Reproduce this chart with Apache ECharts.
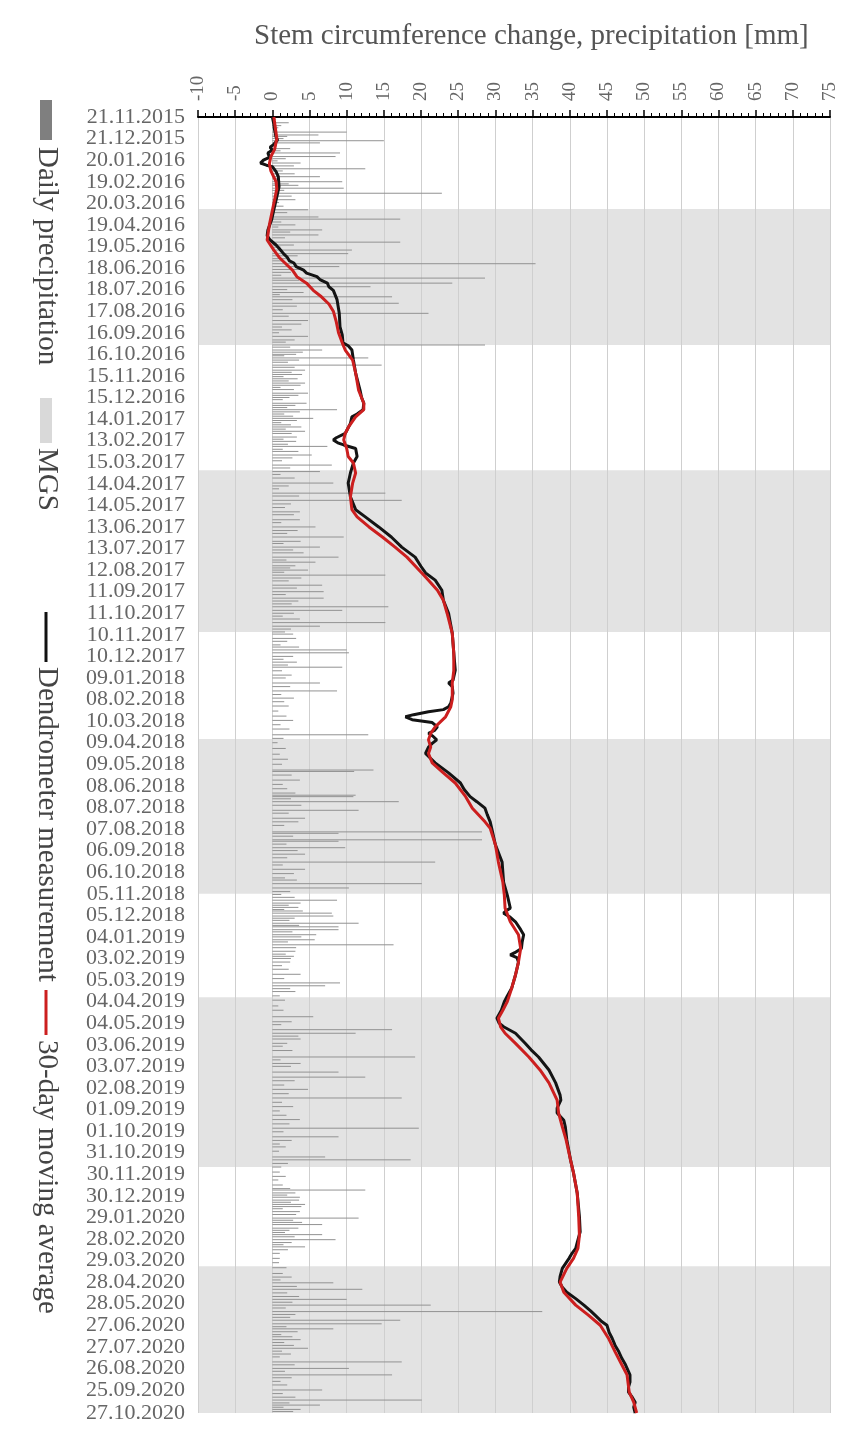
<!DOCTYPE html>
<html><head><meta charset="utf-8">
<script src="https://cdn.jsdelivr.net/npm/echarts@6/dist/echarts.min.js"></script>
<style>html,body{margin:0;padding:0;background:#fff}#c{width:856px;height:1451px}</style>
</head><body><div id="c"></div>
<script>
const titleText = 'Stem circumference change, precipitation [mm]';
const legendNames = ['Daily precipitation', 'MGS', 'Dendrometer measurement', '30-day moving average'];
const dateLabels = ['21.11.2015','21.12.2015','20.01.2016','19.02.2016','20.03.2016','19.04.2016','19.05.2016','18.06.2016','18.07.2016','17.08.2016','16.09.2016','16.10.2016','15.11.2016','15.12.2016','14.01.2017','13.02.2017','15.03.2017','14.04.2017','14.05.2017','13.06.2017','13.07.2017','12.08.2017','11.09.2017','11.10.2017','10.11.2017','10.12.2017','09.01.2018','08.02.2018','10.03.2018','09.04.2018','09.05.2018','08.06.2018','08.07.2018','07.08.2018','06.09.2018','06.10.2018','05.11.2018','05.12.2018','04.01.2019','03.02.2019','05.03.2019','04.04.2019','04.05.2019','03.06.2019','03.07.2019','02.08.2019','01.09.2019','01.10.2019','31.10.2019','30.11.2019','30.12.2019','29.01.2020','28.02.2020','29.03.2020','28.04.2020','28.05.2020','27.06.2020','27.07.2020','26.08.2020','25.09.2020','27.10.2020'];
const labelDays = [0,30,60,90,120,150,180,210,240,270,300,330,360,390,420,450,480,510,540,570,600,630,660,690,720,750,780,810,840,870,900,930,960,990,1020,1050,1080,1110,1140,1170,1200,1230,1260,1290,1320,1350,1380,1410,1440,1470,1500,1530,1560,1590,1620,1650,1680,1710,1740,1770,1802];
const lastDay = 1802;
// main growing season bands [startDay, endDay]
const mgsBands = [[128,317],[491,716],[865,1080],[1224,1460],[1598,1802]];
// dendrometer [day, mm]
const dendrometer = [[0,0.0],[10,0.2],[18,0.3],[28,0.5],[32,0.7],[38,0.2],[42,-0.3],[46,0.0],[50,-0.6],[56,-0.4],[60,-1.2],[64,-1.6],[67,-0.8],[69,0.0],[76,0.5],[83,0.8],[97,0.9],[111,0.6],[129,0.2],[143,-0.1],[157,-0.6],[165,-0.7],[171,-0.3],[178,0.5],[185,1.1],[190,1.5],[195,2.0],[200,2.3],[203,2.9],[208,3.2],[213,4.2],[217,4.6],[222,6.0],[226,6.4],[231,7.4],[236,7.6],[241,8.2],[254,8.7],[273,9.0],[292,9.1],[303,9.4],[314,9.5],[318,10.2],[324,10.7],[338,10.9],[356,11.2],[380,11.8],[390,12.0],[398,12.3],[407,12.2],[413,11.4],[417,10.7],[426,10.5],[440,9.8],[446,8.6],[449,8.2],[453,8.8],[456,9.6],[461,11.2],[472,11.4],[481,10.9],[495,10.5],[509,10.2],[528,10.5],[546,11.2],[556,12.5],[570,14.3],[584,16.0],[598,17.4],[612,19.2],[625,20.0],[634,20.6],[644,21.9],[658,22.8],[672,23.0],[690,23.7],[718,24.2],[745,24.4],[769,24.6],[783,24.3],[787,23.7],[792,24.2],[801,24.3],[815,24.0],[820,23.7],[824,23.0],[827,21.0],[831,19.0],[834,17.9],[838,18.8],[842,21.5],[848,22.2],[853,21.8],[857,21.0],[861,21.6],[866,22.1],[871,21.5],[876,21.0],[885,20.6],[898,21.9],[912,23.7],[926,25.3],[935,25.8],[945,26.6],[952,27.5],[961,28.6],[970,28.9],[980,29.3],[989,29.5],[1012,30.0],[1036,30.9],[1064,31.1],[1082,31.6],[1100,32.0],[1104,31.4],[1107,31.1],[1112,31.9],[1119,32.7],[1130,33.4],[1137,33.8],[1147,33.6],[1156,33.5],[1162,32.6],[1165,32.0],[1169,32.9],[1175,33.1],[1193,32.7],[1211,32.2],[1222,31.6],[1230,31.2],[1242,30.8],[1253,30.2],[1260,30.5],[1265,31.1],[1274,32.7],[1288,34.0],[1297,34.8],[1307,35.8],[1325,37.2],[1343,38.1],[1360,38.7],[1367,38.8],[1378,38.3],[1385,38.3],[1395,39.2],[1404,39.4],[1422,39.6],[1450,40.1],[1468,40.5],[1496,41.0],[1529,41.3],[1550,41.4],[1565,41.0],[1573,40.8],[1580,40.3],[1587,39.9],[1601,39.0],[1612,38.7],[1620,38.6],[1627,39.0],[1634,39.6],[1643,40.8],[1652,41.9],[1660,42.8],[1666,43.4],[1674,44.2],[1680,45.0],[1690,45.3],[1698,45.7],[1708,46.1],[1717,46.6],[1726,47.0],[1735,47.5],[1749,48.1],[1759,48.1],[1766,47.9],[1773,47.9],[1780,48.4],[1787,48.8],[1794,48.6],[1802,48.8]];
// 30-day moving average [day, mm]
const movingAvg = [[0,0.2],[15,0.4],[30,0.6],[45,0.3],[55,-0.2],[65,-0.4],[75,-0.2],[90,0.5],[100,0.6],[115,0.3],[130,0.0],[150,-0.4],[171,-0.7],[185,0.2],[195,0.9],[203,1.7],[213,2.7],[222,3.3],[231,4.6],[241,5.5],[250,6.6],[260,7.6],[270,8.2],[285,8.6],[300,8.9],[314,9.4],[324,9.8],[338,10.8],[356,11.2],[380,11.6],[398,12.3],[407,12.3],[417,11.2],[430,10.3],[440,9.8],[449,9.6],[461,10.0],[472,10.2],[481,10.9],[495,11.2],[509,10.8],[528,10.5],[546,10.7],[556,11.4],[570,13.0],[584,14.8],[598,16.5],[612,18.1],[634,20.1],[644,21.0],[658,22.2],[672,23.0],[690,23.5],[718,24.2],[745,24.4],[770,24.4],[787,24.2],[810,24.2],[820,24.0],[834,23.3],[848,21.9],[857,21.3],[866,21.0],[876,21.3],[885,21.0],[898,21.5],[912,23.0],[926,24.6],[945,26.0],[961,26.9],[980,28.6],[989,29.3],[1012,30.0],[1036,30.4],[1064,31.0],[1082,31.2],[1100,31.3],[1119,32.0],[1137,33.1],[1156,33.4],[1175,33.1],[1193,32.7],[1211,32.2],[1230,31.6],[1242,31.0],[1253,30.4],[1265,30.7],[1274,31.3],[1288,32.7],[1307,34.5],[1325,36.0],[1343,37.2],[1367,38.3],[1385,38.5],[1404,39.0],[1422,39.5],[1450,40.1],[1468,40.5],[1496,41.0],[1529,41.2],[1555,41.3],[1573,41.1],[1587,40.5],[1601,39.6],[1620,38.7],[1634,39.2],[1652,40.8],[1666,42.5],[1680,44.1],[1698,45.2],[1717,46.1],[1735,47.0],[1749,47.7],[1773,48.0],[1787,48.6],[1802,49.0]];
// daily precipitation [day, mm]
const precipitation = [[8,2.2],[21,10.0],[25,6.2],[33,15.0],[36,6.4],[50,9.1],[55,8.5],[64,3.8],[72,12.5],[83,6.4],[90,9.4],[99,9.6],[106,22.8],[115,3.1],[129,4.8],[139,6.2],[142,17.2],[157,6.7],[164,6.2],[174,17.2],[185,10.7],[190,10.2],[204,35.4],[208,9.0],[224,28.6],[231,24.2],[236,13.2],[250,16.1],[259,17.0],[273,21.0],[283,4.8],[305,4.8],[317,28.6],[324,6.7],[335,12.9],[345,14.7],[352,4.4],[370,4.4],[384,4.8],[398,4.6],[407,8.7],[419,5.5],[437,4.4],[445,3.3],[458,7.4],[470,5.3],[484,8.0],[493,6.4],[509,8.2],[523,15.2],[533,17.4],[549,3.7],[560,3.7],[570,5.8],[584,9.6],[598,6.4],[612,8.9],[619,5.8],[630,4.8],[637,15.2],[651,6.7],[660,6.9],[669,6.9],[681,15.6],[686,9.4],[703,15.2],[708,6.4],[719,2.8],[741,10.0],[745,10.3],[765,9.4],[787,6.4],[798,8.7],[839,2.8],[859,12.9],[908,13.6],[910,11.0],[922,3.7],[943,11.2],[945,10.9],[952,17.0],[964,11.6],[975,4.4],[994,28.2],[996,8.9],[1005,28.2],[1007,8.9],[1016,9.8],[1025,4.4],[1036,21.9],[1046,4.4],[1066,20.1],[1072,10.3],[1089,8.7],[1107,8.0],[1111,8.2],[1121,11.6],[1126,8.9],[1130,8.9],[1137,5.9],[1144,5.7],[1151,16.3],[1160,3.1],[1167,2.9],[1175,2.4],[1192,3.8],[1204,9.1],[1208,7.1],[1216,3.1],[1251,5.5],[1269,16.1],[1274,11.2],[1282,3.8],[1307,19.2],[1316,3.8],[1328,8.9],[1335,12.5],[1352,4.8],[1364,17.4],[1394,3.7],[1406,19.7],[1418,8.9],[1432,1.8],[1446,7.1],[1450,18.6],[1467,1.0],[1485,1.4],[1492,12.5],[1502,3.7],[1512,4.4],[1522,3.7],[1531,11.6],[1540,6.7],[1554,6.7],[1561,8.5],[1571,4.4],[1587,1.0],[1600,1.9],[1621,8.2],[1630,12.1],[1644,10.0],[1652,21.3],[1661,36.3],[1673,17.2],[1678,14.7],[1685,8.2],[1700,3.8],[1712,4.8],[1731,17.4],[1740,10.3],[1749,16.1],[1770,6.7],[1784,20.1],[1791,6.4],[1797,3.8],
[3,0.5],[12,1.2],[15,0.8],[27,2.0],[30,1.5],[40,0.6],[44,2.4],[47,1.1],[58,1.8],[61,0.7],[68,2.9],[75,1.4],[79,3.0],[86,1.0],[93,2.2],[95,3.5],[102,1.6],[110,2.6],[119,0.9],[124,1.5],[133,2.0],[146,1.2],[150,3.1],[153,0.8],[160,2.4],[168,1.7],[178,2.9],[181,1.1],[193,3.4],[197,2.1],[200,1.3],[212,4.0],[216,2.5],[220,1.2],[227,3.6],[240,2.0],[244,4.2],[247,1.0],[254,2.7],[263,3.3],[268,1.4],[277,2.2],[288,3.9],[292,1.3],[296,2.6],[300,0.9],[310,3.0],[313,1.8],[320,2.4],[327,4.1],[330,3.2],[332,1.6],[338,3.6],[341,2.1],[348,3.0],[355,2.6],[358,4.0],[361,1.5],[364,3.4],[367,2.2],[373,3.8],[376,1.1],[379,2.9],[387,3.5],[390,2.3],[393,1.4],[401,3.1],[404,2.0],[410,3.7],[413,1.6],[416,2.8],[422,3.3],[425,1.2],[428,2.5],[431,3.9],[434,1.8],[440,2.6],[448,1.5],[451,3.2],[455,2.1],[462,1.4],[465,3.5],[474,2.7],[478,1.3],[488,2.4],[497,1.1],[502,3.0],[513,2.2],[517,0.9],[527,3.6],[538,2.5],[543,1.7],[553,2.9],[564,1.2],[575,3.4],[579,2.0],[590,3.8],[593,1.5],[602,2.8],[606,4.2],[616,1.9],[624,3.1],[627,2.4],[633,1.6],[641,3.9],[645,2.2],[655,3.3],[664,1.8],[673,3.5],[677,2.6],[690,2.9],[694,1.4],[698,3.7],[712,2.5],[716,1.7],[725,3.2],[729,2.0],[734,1.1],[737,3.6],[750,2.8],[754,1.5],[758,3.3],[762,2.1],[770,1.3],[776,2.6],[780,1.8],[792,2.4],[803,1.2],[808,2.9],[813,1.6],[819,2.2],[826,0.8],[833,1.9],[845,1.1],[851,2.3],[864,1.5],[870,0.7],[878,1.8],[886,1.0],[893,2.1],[900,1.3],[915,2.6],[928,1.4],[934,2.0],[940,3.1],[948,2.5],[957,3.9],[968,2.2],[980,3.5],[985,1.6],[1000,2.8],[1011,1.9],[1020,3.4],[1030,2.0],[1040,1.4],[1052,2.9],[1058,1.7],[1061,3.3],[1077,2.4],[1081,1.2],[1085,3.0],[1093,3.8],[1096,2.2],[1099,3.5],[1102,1.6],[1104,4.1],[1114,3.0],[1117,2.3],[1124,3.6],[1133,2.7],[1140,3.9],[1147,2.1],[1155,3.2],[1164,1.8],[1170,2.5],[1180,1.3],[1185,2.2],[1198,1.6],[1212,2.4],[1222,1.0],[1228,1.7],[1236,0.8],[1242,1.5],[1258,2.6],[1262,1.2],[1278,3.5],[1288,2.0],[1292,1.4],[1298,2.7],[1311,1.1],[1320,2.5],[1340,3.0],[1346,1.6],[1358,2.2],[1370,1.3],[1376,2.8],[1382,1.0],[1388,1.9],[1400,2.3],[1411,1.5],[1423,2.6],[1428,1.0],[1438,0.9],[1455,2.1],[1460,1.2],[1473,1.8],[1478,0.8],[1490,2.4],[1496,3.1],[1499,2.0],[1506,3.6],[1509,2.5],[1515,3.9],[1518,1.4],[1526,3.2],[1534,2.8],[1537,4.0],[1545,3.5],[1548,2.3],[1551,1.7],[1557,3.0],[1565,2.6],[1568,1.5],[1575,2.1],[1580,1.0],[1593,0.9],[1608,1.4],[1613,2.6],[1617,1.1],[1626,3.3],[1635,2.0],[1640,3.6],[1648,2.7],[1656,1.8],[1665,3.1],[1669,2.4],[1682,1.9],[1689,3.4],[1693,1.2],[1696,2.7],[1704,1.6],[1708,2.9],[1716,1.3],[1720,2.5],[1724,1.0],[1735,3.0],[1744,1.7],[1753,2.6],[1758,1.1],[1763,2.0],[1775,1.4],[1780,3.1],[1788,2.3],[1794,1.5],[1800,2.8]];

const labelMap = {};
labelDays.forEach((d, i) => { labelMap[d] = dateLabels[i]; });
const serif = 'Liberation Serif';
const chart = echarts.init(document.getElementById('c'));

const legendX = 47;
function legendText(txt, y) {
  return { type: 'text', x: legendX, y: y, rotation: -Math.PI / 2,
    style: { text: txt, fill: '#444', font: '29px "Liberation Serif"', textAlign: 'left', textVerticalAlign: 'middle' } };
}
// two overlapping date axes (alternate labels) so that the library does not drop neighbouring labels
function dateAxis(values) {
  return {
    type: 'value', position: 'left', offset: 0, inverse: true, min: 0, max: lastDay,
    axisLine: { show: false, onZero: false }, axisTick: { show: false }, splitLine: { show: false },
    axisLabel: {
      customValues: values, showMinLabel: true, showMaxLabel: true,
      formatter: v => labelMap[Math.round(v)] || '',
      color: '#666', fontFamily: serif, fontSize: 22, margin: 13
    }
  };
}

chart.setOption({
  animation: false,
  backgroundColor: '#fff',
  title: { text: titleText, left: 249, top: 17,
    textStyle: { fontFamily: serif, fontSize: 29, fontWeight: 'normal', color: '#555' } },
  grid: { left: 198, right: 26, top: 117, bottom: 38, containLabel: false },
  xAxis: {
    type: 'value', position: 'top', min: -10, max: 75, interval: 5,
    axisLine: { show: true, onZero: false, lineStyle: { color: '#000', width: 2 } },
    axisTick: { show: true, length: 7, lineStyle: { color: '#000', width: 1.5 } },
    minorTick: { show: true, splitNumber: 5, length: 4, lineStyle: { color: '#000', width: 1 } },
    axisLabel: { rotate: -90, color: '#666', fontFamily: serif, fontSize: 19, margin: 16 },
    splitLine: { show: true, lineStyle: { color: '#cfcfcf', width: 1 } }
  },
  yAxis: [
    dateAxis(labelDays.filter((d, i) => i % 2 === 0)),
    dateAxis(labelDays.filter((d, i) => i % 2 === 1))
  ],
  series: [
    { type: 'line', z: -1, silent: true, data: [[0, 0]], showSymbol: false, lineStyle: { opacity: 0 },
      markArea: { silent: true, z: -1, itemStyle: { color: '#e3e3e3' },
        data: mgsBands.map(b => [{ yAxis: b[0] }, { yAxis: b[1] }]) } },
    { type: 'custom', name: legendNames[0], silent: true,
      encode: { x: 0, y: 1 },
      data: precipitation.map(p => [p[1], p[0]]),
      renderItem: function (params, api) {
        const a = api.coord([0, api.value(1)]);
        const b = api.coord([api.value(0), api.value(1)]);
        return { type: 'line', shape: { x1: a[0], y1: a[1], x2: b[0], y2: b[1] },
          style: { stroke: '#929292', lineWidth: 1 } };
      } },
    { type: 'line', name: legendNames[2], showSymbol: false, silent: true,
      lineStyle: { color: '#141414', width: 3 },
      data: dendrometer.map(p => [p[1], p[0]]) },
    { type: 'line', name: legendNames[3], showSymbol: false, silent: true,
      lineStyle: { color: '#cc1f1f', width: 3 },
      data: movingAvg.map(p => [p[1], p[0]]) }
  ],
  graphic: [
    { type: 'rect', shape: { x: 40, y: 100, width: 12, height: 40 }, style: { fill: '#7f7f7f' } },
    legendText(legendNames[0], 147),
    { type: 'rect', shape: { x: 40, y: 398, width: 12, height: 45 }, style: { fill: '#d9d9d9' } },
    legendText(legendNames[1], 448),
    { type: 'line', shape: { x1: 46, y1: 612, x2: 46, y2: 662 }, style: { stroke: '#111', lineWidth: 3 } },
    legendText(legendNames[2], 667),
    { type: 'line', shape: { x1: 46, y1: 990, x2: 46, y2: 1035 }, style: { stroke: '#cc1f1f', lineWidth: 3 } },
    legendText(legendNames[3], 1040)
  ]
});
</script></body></html>
